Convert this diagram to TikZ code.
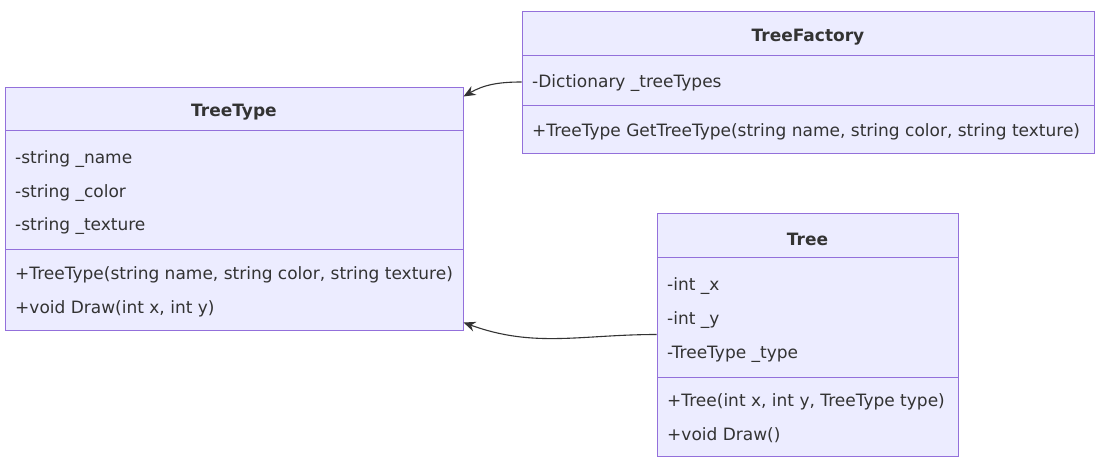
\documentclass[tikz,border=0pt]{standalone}
\usepackage{fontspec}
\setmainfont{DejaVu Sans}
\usetikzlibrary{arrows.meta}
\definecolor{classfill}{HTML}{ECECFF}
\definecolor{classline}{HTML}{9370DB}
\definecolor{ink}{HTML}{333333}
\begin{document}
\begin{tikzpicture}[x=1pt, y=-1pt,
    classbox/.style={
        draw=classline,
        fill=classfill,
        line width=1pt,
        inner sep=0pt
    },
    title/.style={
        font=\fontsize{17}{20}\selectfont\bfseries,
        text=ink,
        inner sep=0pt,
        yshift=-1.5pt
    },
    member/.style={
        anchor=west,
        font=\fontsize{17}{20}\selectfont,
        text=ink,
        inner sep=0pt,
        yshift=-1.5pt
    },
    divider/.style={
        classline,
        line width=1pt
    },
    assoc/.style={
        -{Stealth[length=12pt, width=10pt, inset=4pt]},
        ink,
        line width=1.1pt
    }
]

\useasboundingbox (0,0) rectangle (1105,466);

%%%%%%%%%%%%%%%%%%%%%%%%
% TreeType
%%%%%%%%%%%%%%%%%%%%%%%%

\node[classbox, minimum width=458pt, minimum height=243pt] (tt) at (234,208.5) {};
\draw[divider] (5,130) -- (463,130);
\draw[divider] (5,249) -- (463,249);

% --- Header ---
\node[title] (ttName) at (234,111) {TreeType};

% --- Fields ---
\node[member] (ttF1) at (15,158) {-string \_name};
\node[member] (ttF2) at (15,192) {-string \_color};
\node[member] (ttF3) at (15,225) {-string \_texture};

% --- Methods ---
\node[member] (ttM1) at (15,273) {+TreeType(string name, string color, string texture)};
\node[member] (ttM2) at (15,307) {+void Draw(int x, int y)};

%%%%%%%%%%%%%%%%%%%%%%%%
% TreeFactory
%%%%%%%%%%%%%%%%%%%%%%%%

\node[classbox, minimum width=572pt, minimum height=142pt] (tf) at (808,82) {};
\draw[divider] (522,55) -- (1094,55);
\draw[divider] (522,105) -- (1094,105);

% --- Header ---
\node[title] (tfName) at (808,36) {TreeFactory};

% --- Fields ---
\node[member] (tfF1) at (532,82) {-Dictionary \_treeTypes};

% --- Methods ---
\node[member] (tfM1) at (532,130) {+TreeType GetTreeType(string name, string color, string texture)};

%%%%%%%%%%%%%%%%%%%%%%%%
% Tree
%%%%%%%%%%%%%%%%%%%%%%%%

\node[classbox, minimum width=301pt, minimum height=243pt] (tr) at (807.5,334.5) {};
\draw[divider] (657,257) -- (958,257);
\draw[divider] (657,377) -- (958,377);

% --- Header ---
\node[title] (trName) at (807.5,238) {Tree};

% --- Fields ---
\node[member] (trF1) at (667,285) {-int \_x};
\node[member] (trF2) at (667,319) {-int \_y};
\node[member] (trF3) at (667,353) {-TreeType \_type};

% --- Methods ---
\node[member] (trM1) at (667,400) {+Tree(int x, int y, TreeType type)};
\node[member] (trM2) at (667,434) {+void Draw()};

%%%%%%%%%%%%%%%%%%%%%%%%
% Associations
%%%%%%%%%%%%%%%%%%%%%%%%

\draw[assoc] (tf.west) to[out=180, in=30] ([yshift=-10pt]tt.north east);
\draw[assoc] (tr.west) to[out=180, in=-20] ([yshift=8pt]tt.south east);

\end{tikzpicture}
\end{document}
